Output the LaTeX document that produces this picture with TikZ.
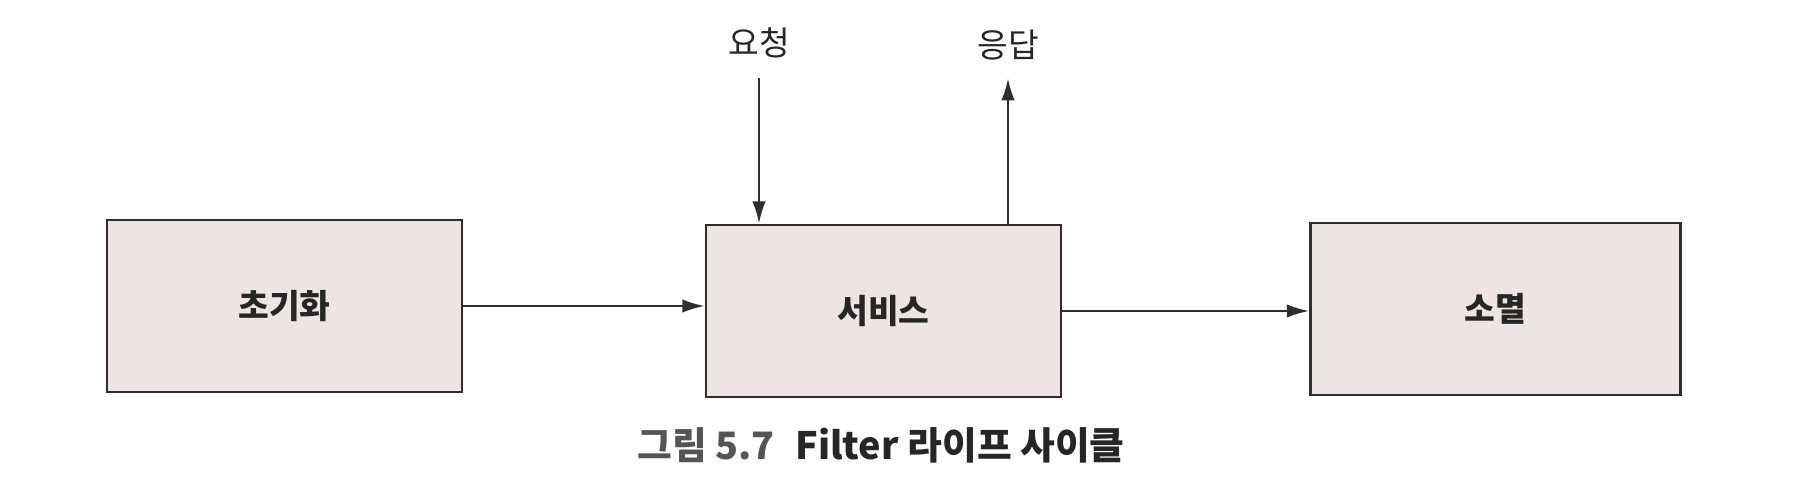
\documentclass[tikz,border=0pt]{standalone}
\usepackage{fontspec}
\usepackage{tikz}
\usepackage{xcolor}
\newfontfamily\kr{Noto Sans CJK KR}
\definecolor{boxfill}{HTML}{EDE5E5}
\definecolor{lineclr}{HTML}{2E2E2E}
\definecolor{capgray}{HTML}{555555}
\usetikzlibrary{arrows.meta}
\tikzset{
  phase/.style={draw=lineclr,line width=1.4pt,fill=boxfill,minimum height=172*0.02cm,inner sep=0pt,
    font=\kr\bfseries\fontsize{19}{22}\selectfont,text=black!85},
  flow/.style={draw=lineclr,line width=1.5pt,-{Latex[length=0.45cm,width=0.27cm]}},
  tag/.style={font=\kr\fontsize{19}{22}\selectfont,text=black!85,inner sep=0pt}
}

\begin{document}
\begin{tikzpicture}[x=0.02cm,y=-0.02cm]
\useasboundingbox (0,0) rectangle (1805,486);
\node[phase,minimum width=355*0.02cm] (init) at (284.5,306) {초기화};
\node[phase,minimum width=355*0.02cm] (service) at (883.5,311) {서비스};
\node[phase,minimum width=370*0.02cm] (destroy) at (1495.5,309) {소멸};
\draw[flow] (init) -- (init -| service.west);
\draw[flow] (service) -- (service -| destroy.west);
\coordinate (reqtop) at (759,78);
\coordinate (restop) at (1008,78);
\node[tag] (request) at (759,43) {요청};
\node[tag] (response) at (1008,45) {응답};
\draw[flow] (reqtop) -- (reqtop |- service.north);
\draw[flow] (restop |- service.north) -- (restop);
\node[font=\kr\bfseries\fontsize{21.5}{24}\selectfont,text=black!85,inner sep=0pt] (caption) at (881,445)
  {{\color{capgray}그림 5.7}\hspace{0.55em}Filter 라이프 사이클};
\end{tikzpicture}
\end{document}
